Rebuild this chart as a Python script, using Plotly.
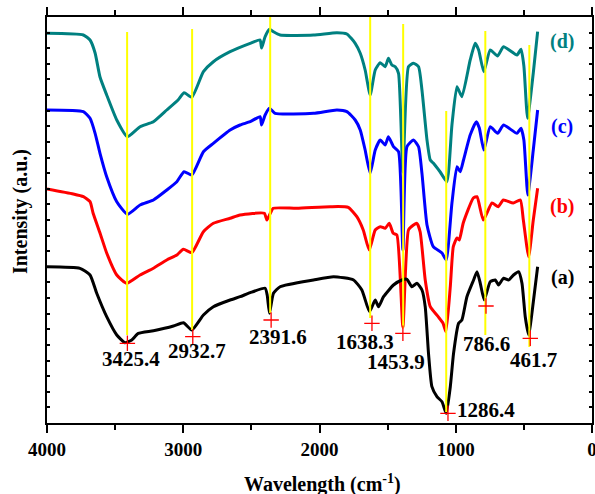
import plotly.graph_objects as go

# ---- data (wavenumber in cm-1, intensity in a.u.) ----
wn_a = [4000,3758,3684,3635,3562,3488,3427,3378,3330,3219,3072,2999,2937,2852,2779,2656,2583,2509,2399,2384,
        2367,2338,2289,2044,1897,1750,1689,1633,1591,1567,1530,1457,1395,1358,1322,1285,1248,1224,1200,1175,
        1138,1101,1070,1040,1016,979,955,918,869,844,820,791,747,710,686,649,612,576,539,514,490,465,429,399]
int_a = [156.3,154.7,148,129.7,106.3,88,80.3,83,89.7,92.3,97,100.3,93,108,116.3,123,126.3,130.3,134.7,128,
         109.7,129.7,136.3,143,146.3,143,133,111.3,123,116.3,126.3,138,143,143.7,136.3,139.7,133,116.3,69.7,36.3,
         26.3,21.3,9.7,36.3,69.7,99.7,103,126.3,143,151.3,139.7,123,141.3,143,138,144.7,143,148,151.3,139.7,
         106.3,88,123,156.3]

wn_b = [4000,3807,3733,3684,3662,3611,3562,3488,3415,3317,3219,3121,3047,2999,2937,2852,2779,2656,2583,2405,
        2386,2361,2340,2166,1922,1789,1726,1679,1635,1591,1554,1518,1488,1459,1432,1388,1347,1310,1285,1261,
        1224,1187,1129,1094,1072,1040,1018,991,974,945,871,844,798,734,688,651,578,526,504,465,431,399]
int_b = [234,229,226.3,221.3,210,190,170,148,139.7,148,154.7,163,168,173.7,170.3,191.3,199.7,204.7,208,209.7,
         203,209.7,214.7,214.7,216.3,215.7,206.3,193,173,193,196.3,194.7,199.7,189.7,188,96,193,198,199.7,191,
         143,116.3,106.3,100,91.3,136.3,176.3,185,183,200,225,226.3,203,220,216.3,223,220,223,203,166.3,203,234.7]

wn_c = [4000,3733,3684,3647,3611,3562,3488,3410,3317,3219,3121,3047,2994,2937,2852,2779,2656,2583,2509,2436,
        2425,2399,2367,2326,2044,1872,1799,1738,1701,1665,1628,1591,1554,1518,1494,1457,1420,1388,1358,1310,
        1273,1248,1211,1165,1101,1070,1028,991,967,943,894,849,827,794,747,693,649,551,521,500,471,431,399]
int_c = [313,311.3,304.7,289.7,269.7,246.3,221.3,208.7,218,223,233,241.3,251.3,248,271.3,279.7,293,298,301.3,306.3,
         298,308,314.7,309.7,309.7,313,311.3,303,293,273,249.7,273,283,278,286.3,276.3,271.3,173,276.3,283,
         276.3,249.7,198,176.3,170,163,220,256.3,251.3,263,288,301.3,295,273,296.3,289.7,298,289.7,294.7,283,
         228,273,313]

wn_d = [4000,3733,3684,3647,3611,3562,3488,3410,3317,3219,3121,3038,2994,2937,2852,2779,2656,2509,2436,2425,
        2399,2367,2338,2289,2044,1872,1799,1738,1701,1665,1628,1591,1554,1518,1494,1469,1444,1420,1388,1347,
        1310,1273,1248,1211,1187,1165,1114,1065,1028,991,955,894,857,832,794,747,693,649,551,521,500,473,431,399]
int_d = [389.7,388,383,370,346,328,303,286.3,296.3,301.3,313,323,330.3,325.7,351.3,361.3,371.3,379.7,383,375,
         386.3,393.7,391.3,388,388,390.3,389,379.7,369.7,353,328,353,360.3,356.3,364.7,358,356.3,349.7,251,356.3,
         359.7,356.3,333,283,263,260,251,241.3,298,336.3,326.3,363,379.7,373,351.3,373,367,376.3,368,373.7,
         357,304.7,350,391.3]

series_names = ["(a)", "(b)", "(c)", "(d)"]

# reference (yellow) lines
ref_wn = [3412, 2935, 2362, 1628, 1386, 1070, 783, 460]
ref_top = [391, 394, 406, 406, 399, 312, 392, 378]
ref_bottom = [88, 93, 110, 105, 95, 11, 88, 76]

# peak markers on curve (a)
mark_wn = [3410, 2930, 2355, 1615, 1388, 1057, 778, 453]
mark_int = [79.7, 86.3, 103, 99.7, 89.7, 9.7, 117, 84.7]

# peak labels
peak_text = ["3425.4", "2932.7", "2391.6", "1638.3", "1453.9", "1286.4", "786.6", "461.7"]
peak_lab_wn = [3383, 2902, 2304, 1665, 1437, 776, 776, 427]
peak_lab_int = [64, 72.5, 86, 81.5, 61.5, 13, 79, 63]

series_lab_wn = [218, 218, 218, 218]
series_lab_int = [146, 217, 297, 382]

# ---- styling ----
colors = {"(a)": "#000000", "(b)": "#ff0000", "(c)": "#0000ff", "(d)": "#008080"}
FONT = "Liberation Serif, Times New Roman, serif"

fig = go.Figure()

curves = {"(a)": (wn_a, int_a), "(b)": (wn_b, int_b), "(c)": (wn_c, int_c), "(d)": (wn_d, int_d)}
for name in ["(d)", "(c)", "(b)", "(a)"]:
    x, y = curves[name]
    fig.add_trace(go.Scatter(x=x, y=y, mode="lines", name=name,
                             line=dict(color=colors[name], width=3, shape="spline", smoothing=0.5),
                             showlegend=False, hoverinfo="skip"))

lx, ly = [], []
for w, t, b in zip(ref_wn, ref_top, ref_bottom):
    lx += [w, w, None]
    ly += [t, b, None]
fig.add_trace(go.Scatter(x=lx, y=ly, mode="lines", line=dict(color="#ffff00", width=2),
                         showlegend=False, hoverinfo="skip"))

fig.add_trace(go.Scatter(x=mark_wn, y=mark_int, mode="markers",
                         marker=dict(symbol="cross-thin", size=11, line=dict(color="#ff0000", width=1.3)),
                         showlegend=False, hoverinfo="skip", cliponaxis=False))

for t, xw, yi in zip(peak_text, peak_lab_wn, peak_lab_int):
    fig.add_annotation(x=xw, y=yi, text=t, showarrow=False,
                       font=dict(family=FONT, size=21, color="#000000", weight="bold"),
                       xanchor="center", yanchor="middle", borderpad=0)

for name, xw, yi in zip(series_names, series_lab_wn, series_lab_int):
    fig.add_annotation(x=xw, y=yi, text=name, showarrow=False,
                       font=dict(family=FONT, size=20, color=colors[name], weight="bold"),
                       xanchor="center", yanchor="middle")

fig.add_annotation(xref="paper", yref="paper", x=0.5055, y=-0.148, text="Wavelength (cm<sup>-1</sup>)",
                   showarrow=False, font=dict(family=FONT, size=20, color="#000000", weight="bold"),
                   xanchor="center", yanchor="middle")
fig.add_annotation(xref="paper", yref="paper", x=-0.0496, y=0.522, text="Intensity (a.u.)",
                   textangle=-90, showarrow=False,
                   font=dict(family=FONT, size=20, color="#000000", weight="bold"),
                   xanchor="center", yanchor="middle")

fig.update_layout(
    width=595, height=494,
    margin=dict(l=47, r=3, t=17, b=71, autoexpand=False),
    paper_bgcolor="white", plot_bgcolor="white",
    xaxis=dict(range=[4000, 0], dtick=1000, tick0=0, showgrid=False, zeroline=False, automargin=False,
               ticklabeloverflow="allow",
               showline=True, linecolor="black", linewidth=2, mirror="ticks",
               ticks="outside", ticklen=8, tickwidth=2, tickcolor="black",
               minor=dict(dtick=500, ticks="outside", ticklen=5, tickwidth=2, tickcolor="black"),
               tickfont=dict(family=FONT, size=19, color="black", weight="bold")),
    yaxis=dict(range=[0, 406], tick0=0, dtick=406 / 26, showgrid=False, zeroline=False, automargin=False,
               showline=True, linecolor="black", linewidth=2, mirror="ticks",
               ticks="inside", ticklen=3, tickwidth=1.5, tickcolor="black",
               showticklabels=False),
)

fig.write_html("out.html")
